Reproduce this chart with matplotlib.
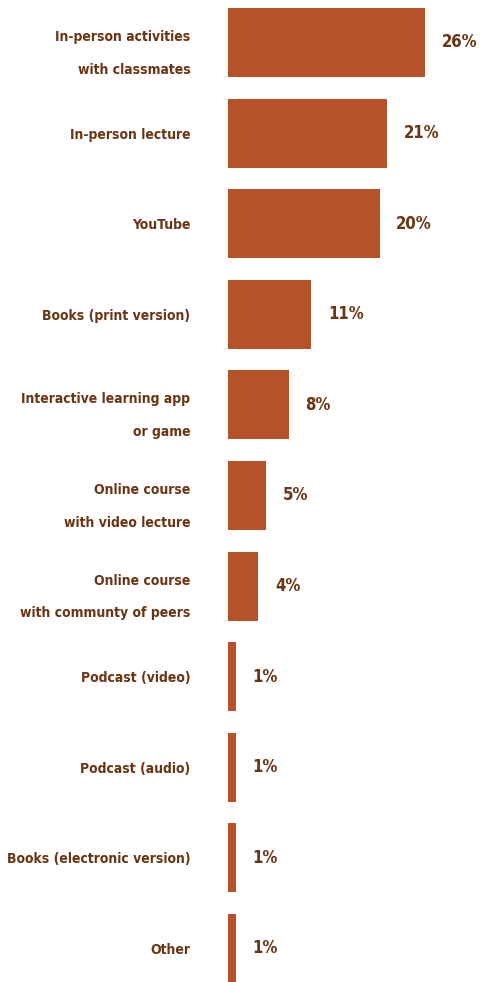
import numpy as np
import matplotlib.pyplot as plt

labels = ["In-person activities\nwith classmates", "In-person lecture", "YouTube",
          "Books (print version)", "Interactive learning app\nor game",
          "Online course\nwith video lecture", "Online course\nwith communty of peers",
          "Podcast (video)", "Podcast (audio)", "Books (electronic version)", "Other"]
values = [26, 21, 20, 11, 8, 5, 4, 1, 1, 1, 1]

bar_color = "#B5522A"
text_color = "#6B3514"
plt.rcParams['font.family'] = ['DejaVu Sans']
plt.rcParams['font.stretch'] = 'condensed'

fig = plt.figure(figsize=(4.85, 9.82), dpi=100)
ax = fig.add_axes([0.47, 0.0, 0.5236, 1.0])

y = np.arange(len(values))
ax.barh(y, values, height=0.76, color=bar_color)
ax.set_xlim(0, 33.5)
ax.set_ylim(10.37, -0.469)

ax.set_yticks(y)
ax.set_yticklabels(labels, fontsize=10, fontweight='bold', color=text_color,
                   fontstretch='condensed', linespacing=2.7)
ax.tick_params(axis='y', length=0, pad=27)
ax.set_xticks([])
for s in ax.spines.values():
    s.set_visible(False)

for yi, v in zip(y, values):
    ax.annotate(f"{v}%", xy=(v, yi), xytext=(12, 0), textcoords='offset points',
                va='center', ha='left', fontsize=12, fontweight='bold',
                fontstretch='condensed', color=text_color)

fig.savefig("out.png", dpi=100)
